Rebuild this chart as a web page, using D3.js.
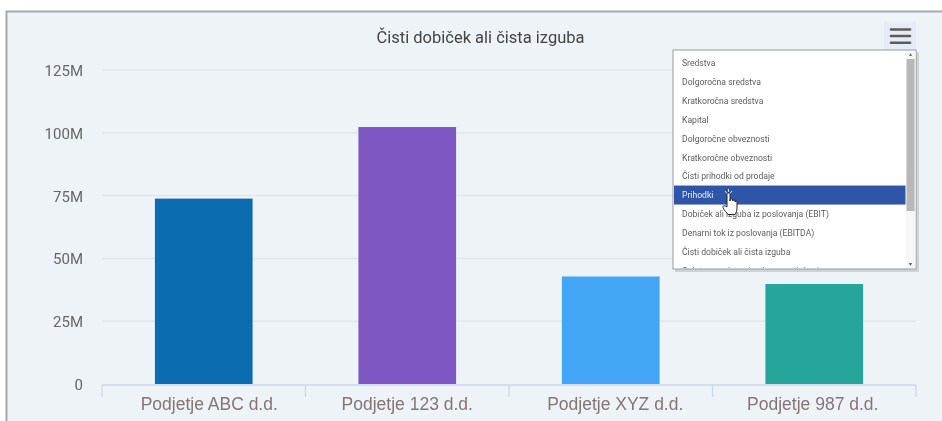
<!DOCTYPE html>
<html>
<head>
<meta charset="utf-8">
<script src="https://cdn.jsdelivr.net/npm/d3@7/dist/d3.min.js"></script>
<style>
html, body { margin: 0; padding: 0; background: #fff; overflow: hidden; }
svg { display: block; filter: blur(0.35px); }
text { font-family: Roboto, sans-serif; }
</style>
</head>
<body>
<svg id="chart" width="942" height="421"></svg>
<script>
var categories = ["Podjetje ABC d.d.", "Podjetje 123 d.d.", "Podjetje XYZ d.d.", "Podjetje 987 d.d."];
var values = [73.8, 102.3, 42.8, 39.8];
var barColors = ["#0c6cb0", "#7f57c2", "#42a5f5", "#26a69a"];
var yTicks = [0, 25, 50, 75, 100, 125];
var menuItems = [
    "Sredstva", "Dolgoročna sredstva", "Kratkoročna sredstva", "Kapital",
    "Dolgoročne obveznosti", "Kratkoročne obveznosti", "Čisti prihodki od prodaje",
    "Prihodki", "Dobiček ali izguba iz poslovanja (EBIT)",
    "Denarni tok iz poslovanja (EBITDA)", "Čisti dobiček ali čista izguba",
    "Celotna sredstva in obveznosti do virov"
];
var selectedItem = "Prihodki";

var svg = d3.select("#chart");

// panel with the grey frame on top and left
svg.append("rect").attr("x", 6).attr("y", 11).attr("width", 936).attr("height", 410).attr("fill", "#eef3f8");
svg.append("path").attr("d", "M6.5,421V11.5H942").attr("fill", "none").attr("stroke", "#a8a8a8").attr("stroke-width", 2);

var x = d3.scaleBand().domain(categories).range([102, 916]).paddingInner(0.52).paddingOuter(0.26);
var xAxisBand = d3.scaleBand().domain(categories).range([102, 916]);
var y = d3.scaleLinear().domain([0, 125]).range([384, 70]);

svg.append("text").attr("x", 480.5).attr("y", 43).attr("text-anchor", "middle")
    .attr("font-size", 16.5).attr("fill", "#444").text("Čisti dobiček ali čista izguba");

// grid
svg.append("g").selectAll("line").data(yTicks.filter(function(d){ return d > 0; })).enter().append("line")
    .attr("x1", 102).attr("x2", 916)
    .attr("y1", function(d){ return y(d); }).attr("y2", function(d){ return y(d); })
    .attr("stroke", "#e3e7eb").attr("stroke-width", 1.5);

svg.append("g").selectAll("text").data(yTicks).enter().append("text")
    .attr("x", 83).attr("y", function(d){ return y(d) + 6; })
    .attr("text-anchor", "end").attr("font-size", 15).attr("fill", "#666")
    .text(function(d){ return d === 0 ? "0" : d + "M"; });

// bars
svg.append("g").selectAll("rect").data(values).enter().append("rect")
    .attr("x", function(d, i){ return x(categories[i]); })
    .attr("width", x.bandwidth())
    .attr("y", function(d){ return y(d); })
    .attr("height", function(d){ return y(0) - y(d); })
    .attr("fill", function(d, i){ return barColors[i]; });

// x axis
var xAxis = svg.append("g");
xAxis.append("line").attr("x1", 102).attr("x2", 916).attr("y1", 385).attr("y2", 385)
    .attr("stroke", "#ccd6eb").attr("stroke-width", 1.5);
var tickPos = categories.map(function(c){ return xAxisBand(c); }).concat([916]);
xAxis.selectAll("line.tick").data(tickPos).enter().append("line").attr("class", "tick")
    .attr("x1", function(d){ return d; }).attr("x2", function(d){ return d; })
    .attr("y1", 385).attr("y2", 397).attr("stroke", "#ccd6eb").attr("stroke-width", 1.2);
// labels in the picture are not quite centred on their bands
var labelNudge = [5.5, 0, 4.5, -1.5];
xAxis.selectAll("text").data(categories).enter().append("text")
    .attr("x", function(d, i){ return xAxisBand(d) + xAxisBand.bandwidth() / 2 + labelNudge[i]; })
    .attr("y", 410).attr("text-anchor", "middle")
    .attr("font-size", 17.5).attr("fill", "#857575")
    .style("font-family", "'Liberation Sans', Arial, sans-serif")
    .text(function(d){ return d; });

// hamburger button
svg.append("rect").attr("x", 884).attr("y", 22).attr("width", 32).attr("height", 28).attr("fill", "#e6ebf5");
svg.append("g").selectAll("line").data([29.5, 36, 42.7]).enter().append("line")
    .attr("x1", 891).attr("x2", 910).attr("y1", function(d){ return d; }).attr("y2", function(d){ return d; })
    .attr("stroke", "#5c5c5c").attr("stroke-width", 2.6).attr("stroke-linecap", "round");

// dropdown list
var menu = svg.append("g");
var clipDef = svg.append("clipPath").attr("id", "menuClip");
clipDef.append("rect").attr("x", 674).attr("y", 50).attr("width", 242).attr("height", 218);
menu.append("rect").attr("x", 675).attr("y", 52).attr("width", 244).attr("height", 220).attr("fill", "#999").attr("opacity", 0.35);
menu.append("rect").attr("x", 673).attr("y", 50).attr("width", 243).attr("height", 219)
    .attr("fill", "#fff").attr("stroke", "#999").attr("stroke-width", 1);

var itemY = d3.scaleLinear().domain([0, 11]).range([63, 270.5]);
var items = menu.append("g").attr("clip-path", "url(#menuClip)");
items.append("rect").attr("x", 673.5).attr("y", itemY(menuItems.indexOf(selectedItem)) - 9.5)
    .attr("width", 232).attr("height", 19).attr("fill", "#2f55a8");
items.selectAll("text").data(menuItems).enter().append("text")
    .attr("x", 682).attr("y", function(d, i){ return itemY(i) + 3.2; })
    .attr("font-size", 8.6)
    .attr("fill", function(d){ return d === selectedItem ? "#e8eefb" : "#5c5c5c"; })
    .text(function(d){ return d; });

// scrollbar
menu.append("rect").attr("x", 906).attr("y", 51).attr("width", 9.5).attr("height", 217).attr("fill", "#f6f6f6");
menu.append("rect").attr("x", 906.5).attr("y", 59).attr("width", 8).attr("height", 152).attr("fill", "#b8b8b8");
menu.append("path").attr("d", d3.symbol(d3.symbolTriangle, 5)()).attr("transform", "translate(910.5,55)").attr("fill", "#777");
menu.append("path").attr("d", d3.symbol(d3.symbolTriangle, 5)()).attr("transform", "translate(910.5,264) rotate(180)").attr("fill", "#666");

// hand cursor over the selected row
svg.append("path")
    .attr("d", "M727,207V194.5c0,-2 3,-2 3,0V201l0,-1c0,-1.6 2.6,-1.6 2.6,0v1c0,-1.4 2.4,-1.4 2.4,0v1c0,-1.2 2,-1.2 2,0v6c0,3 -1,5 -2,6.5h-7c-1,-2 -4,-4 -5,-7c-.5,-2 2,-2.500 4,-.5z")
    .attr("fill", "#fff").attr("stroke", "#222").attr("stroke-width", 1);
svg.append("path").attr("d", "M725,191l2,2.500M732,191l-2,2.500M728.500,189v3")
    .attr("stroke", "#dfe6f5").attr("stroke-width", 1).attr("fill", "none");
</script>
</body>
</html>
